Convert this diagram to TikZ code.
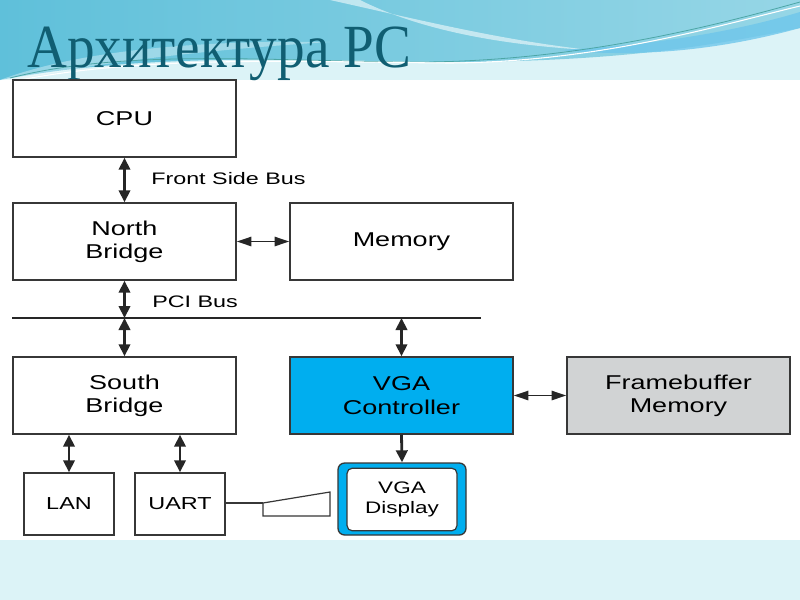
\documentclass[tikz,border=0pt]{standalone}
\usepackage{fontspec}
\usepackage{graphicx}
\setmainfont{Liberation Sans}
\newfontfamily\titlefont{Liberation Serif}
\usetikzlibrary{arrows.meta}
\definecolor{bandlight}{RGB}{220,243,247}
\definecolor{bandblue}{RGB}{95,192,218}
\definecolor{bandblue2}{RGB}{150,214,230}
\definecolor{titlecol}{RGB}{16,94,114}
\definecolor{vgablue}{RGB}{0,174,239}
\definecolor{fbgray}{RGB}{209,211,212}
\definecolor{boxline}{RGB}{55,55,55}
\definecolor{wavecol}{RGB}{110,198,235}
\newcommand{\wide}[1]{\scalebox{1.35}[1]{#1}}
\tikzset{
  box/.style={draw=boxline, line width=1.1pt, inner sep=0pt, align=center,
    font=\fontsize{15}{17.5}\selectfont, text=black},
  smallbox/.style={box, font=\fontsize{13}{15}\selectfont},
  lbl/.style={inner sep=0pt, anchor=west, font=\fontsize{12.5}{15}\selectfont, text=black},
  vbus/.style={line width=2.1pt, draw=black!85,
    {Triangle[length=9pt,width=8.5pt]}-{Triangle[length=9pt,width=8.5pt]}},
  hbus/.style={line width=1.2pt, draw=black!85,
    {Triangle[length=11pt,width=7pt]}-{Triangle[length=11pt,width=7pt]}},
  single/.style={line width=2.1pt, draw=black!85, -{Triangle[length=9pt,width=8.5pt]}},
}
\begin{document}
\begin{tikzpicture}[x=0.75pt,y=-0.75pt]
\useasboundingbox (0,0) rectangle (800,600);
% background
\fill[white] (0,0) rectangle (800,600);
\fill[bandlight] (0,0) rectangle (800,80);
\fill[bandlight] (0,540) rectangle (800,600);
\shade[left color=bandblue, right color=bandblue2]
  (0,0) -- (800,0) -- (800,28) .. controls (700,48) and (620,60) .. (470,62)
  .. controls (320,62) and (160,50) .. (0,80) -- cycle;
\fill[white, opacity=0.55] (330,0) .. controls (420,20) and (500,40) .. (590,50)
  .. controls (500,45) and (420,30) .. (360,0) -- cycle;
\fill[white, opacity=0.35] (0,80) .. controls (80,50) and (200,40) .. (330,42)
  .. controls (200,50) and (80,65) .. (20,80) -- cycle;
\fill[wavecol, opacity=0.8]
  (560,50) .. controls (660,45) and (740,30) .. (800,12) -- (800,28)
  .. controls (720,50) and (640,58) .. (560,50) -- cycle;
\draw[teal!70, line width=0.6pt] (10,78) .. controls (120,50) and (250,60) .. (400,62)
  .. controls (560,64) and (700,30) .. (800,2);
\draw[white, line width=0.8pt] (20,80) .. controls (150,55) and (300,62) .. (450,63)
  .. controls (600,62) and (720,25) .. (800,6);
% title
\node[inner sep=0pt, anchor=base west, text=titlecol] (title) at (27,67)
  {\scalebox{0.9}[1]{\titlefont\fontsize{46}{52}\selectfont Архитектура PC}};
% boxes
\node[box, minimum width=167.25pt, minimum height=57.75pt] (cpu) at (124.5,118.5) {\wide{CPU}};
\node[box, minimum width=167.25pt, minimum height=57.75pt] (nb) at (124.5,241.5) {\wide{North}\\\wide{Bridge}};
\node[box, minimum width=167.25pt, minimum height=57.75pt] (mem) at (401.5,241.5) {\wide{Memory}};
\node[box, minimum width=167.25pt, minimum height=57.75pt] (sb) at (124.5,395.5) {\wide{South}\\\wide{Bridge}};
\node[box, fill=vgablue, minimum width=167.25pt, minimum height=57.75pt] (vga) at (401.5,395.5) {\wide{VGA}\\\wide{Controller}};
\node[box, fill=fbgray, minimum width=167.25pt, minimum height=57.75pt] (fb) at (678.5,395.5) {\wide{Framebuffer}\\\wide{Memory}};
\node[smallbox, minimum width=67.5pt, minimum height=46.5pt] (lan) at (69,504) {\wide{LAN}};
\node[smallbox, minimum width=67.5pt, minimum height=46.5pt] (uart) at (180,504) {\wide{UART}};
% VGA display
\node[draw=boxline, line width=1pt, fill=vgablue, rounded corners=5pt,
  minimum width=96pt, minimum height=54pt, inner sep=0pt] (dispout) at (402,499) {};
\node[draw=boxline, line width=0.9pt, fill=white, rounded corners=4pt,
  minimum width=82.5pt, minimum height=47pt, inner sep=0pt, align=center,
  font=\fontsize{12.5}{15}\selectfont] (disp) at (402,499.5) {\wide{VGA}\\\wide{Display}};
% labels
\node[lbl] (fsb) at (151,179) {\scalebox{1.4}[1]{Front Side Bus}};
\node[lbl] (pcil) at (152,302) {\scalebox{1.4}[1]{PCI Bus}};
% bus
\coordinate (busL) at (12,318);
\coordinate (busR) at (481,318);
\draw[line width=2.2pt, black!85] (busL) -- (busR);
\coordinate (b1) at (124.5,318);
\coordinate (b2) at (401.5,318);
% connectors
\draw[vbus] (cpu.south) -- (nb.north);
\draw[hbus] (nb.east) -- (mem.west);
\draw[vbus] (nb.south) -- (b1);
\draw[vbus] (b1) -- (sb.north);
\draw[vbus] (b2) -- (vga.north);
\draw[hbus] (vga.east) -- (fb.west);
\draw[single] (vga.south) -- (dispout.north);
\draw[vbus] (sb.south -| lan.north) -- (lan.north);
\draw[vbus] (sb.south -| uart.north) -- (uart.north);
% cable
\coordinate (c1) at (263,503);
\draw[boxline, line width=0.9pt] (uart.east |- c1) -- (c1);
\draw[boxline, line width=0.9pt, fill=white] (c1) -- (330,492) -- (330,516) -- (263,516) -- cycle;
\end{tikzpicture}
\end{document}
